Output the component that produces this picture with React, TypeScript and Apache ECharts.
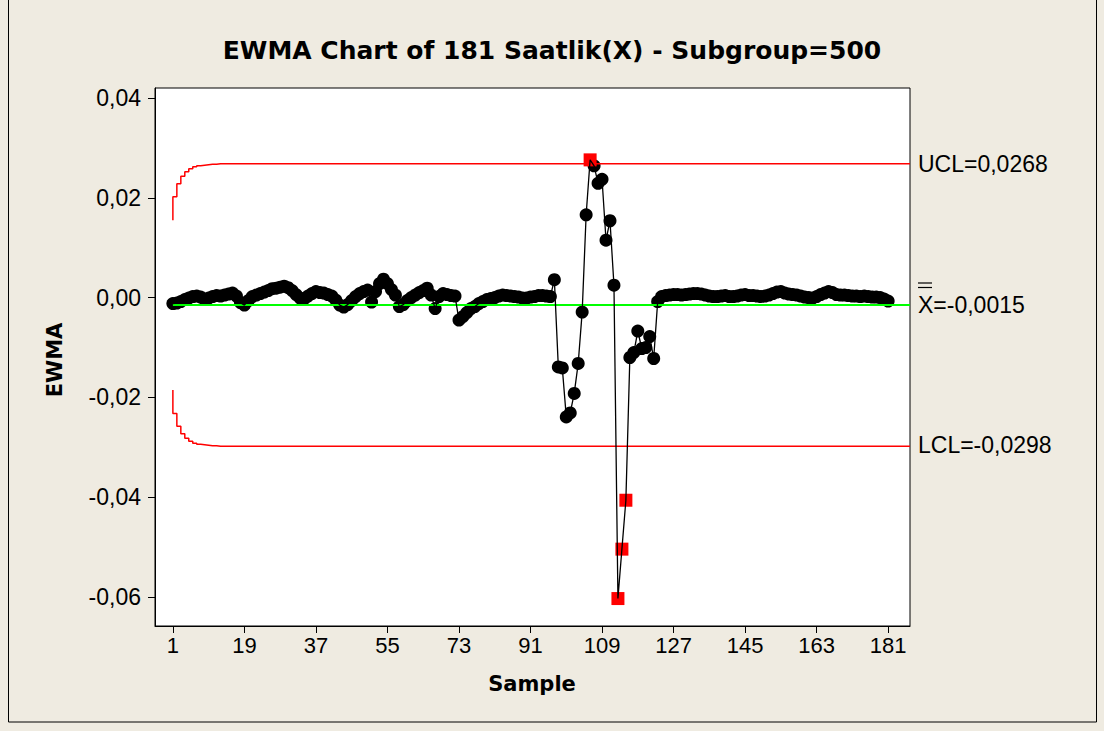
import React, { useEffect, useRef } from "react";
import * as echarts from "echarts";

const titleText = "EWMA Chart of 181 Saatlik(X) - Subgroup=500";
const xTicks = [1, 19, 37, 55, 73, 91, 109, 127, 145, 163, 181];
const yTicks = [-0.06, -0.04, -0.02, 0, 0.02, 0.04];

// EWMA values for samples 1..181
const ewma = [
  -0.0012, -0.0011, -0.0008, -0.0004, -0.0001, 0.0002, 0.0003, 0.0001, -0.0004, -0.0001,
  0.0002, 0.0004, 0.0003, 0.0005, 0.0007, 0.0009, 0.0003, -0.0010, -0.0015, -0.0006,
  0.0002, 0.0005, 0.0008, 0.0011, 0.0014, 0.0018, 0.0019, 0.0021, 0.0023, 0.0020,
  0.0014, 0.0006, -0.0001, -0.0003, 0.0003, 0.0008, 0.0012, 0.0010, 0.0009, 0.0006,
  0.0003, -0.0005, -0.0015, -0.0019, -0.0014, -0.0006, 0.0002, 0.0008, 0.0012, 0.0015,
  -0.0009, 0.0012, 0.0028, 0.0037, 0.0028, 0.0016, 0.0005, -0.0018, -0.0014, -0.0006,
  0.0000, 0.0005, 0.0010, 0.0014, 0.0019, 0.0005, -0.0022, 0.0002, 0.0008, 0.0006,
  0.0004, 0.0003, -0.0045, -0.0038, -0.0030, -0.0022, -0.0018, -0.0012, -0.0008, -0.0004,
  -0.0002, 0.0000, 0.0003, 0.0005, 0.0004, 0.0003, 0.0002, 0.0001, -0.0001, -0.0001,
  0.0001, 0.0002, 0.0004, 0.0004, 0.0003, 0.0002, 0.0036, -0.0139, -0.0141, -0.0239,
  -0.0231, -0.0192, -0.0132, -0.0029, 0.0166, 0.0276, 0.0264, 0.0229, 0.0237, 0.0115,
  0.0154, 0.0025, -0.0603, -0.0504, -0.0406, -0.0120, -0.0110, -0.0067, -0.0102, -0.0100,
  -0.0078, -0.0122, -0.0008, 0.0002, 0.0004, 0.0005, 0.0006, 0.0006, 0.0005, 0.0006,
  0.0007, 0.0008, 0.0008, 0.0007, 0.0005, 0.0003, 0.0002, 0.0002, 0.0003, 0.0004,
  0.0002, 0.0002, 0.0003, 0.0005, 0.0006, 0.0004, 0.0004, 0.0003, 0.0002, 0.0003,
  0.0005, 0.0008, 0.0011, 0.0012, 0.0009, 0.0007, 0.0006, 0.0005, 0.0003, 0.0001,
  0.0000, -0.0001, 0.0002, 0.0006, 0.0009, 0.0012, 0.0010, 0.0006, 0.0005, 0.0005,
  0.0004, 0.0003, 0.0003, 0.0002, 0.0003, 0.0002, 0.0001, 0.0001, 0.0000, -0.0003,
  -0.0007,
];

// Control limits: early steps (samples 1..13), then steady values
const uclSteps = [0.0155, 0.0202, 0.0228, 0.0243, 0.0252, 0.0258, 0.0262, 0.0264, 0.0265, 0.0266, 0.0267, 0.0267, 0.0268];
const lclSteps = [-0.0185, -0.0232, -0.0258, -0.0273, -0.0282, -0.0288, -0.0292, -0.0294, -0.0295, -0.0296, -0.0297, -0.0297, -0.0298];
const UCL = 0.0268;
const LCL = -0.0298;
const CENTER = -0.0015;

const X_MIN = -3.5;
const X_MAX = 186.5;
const Y_MIN = -0.0658;
const Y_MAX = 0.042;

const FONT = "Liberation Sans";

export default function App() {
  const ref = useRef<HTMLDivElement>(null);
  useEffect(() => {
    if (!ref.current) return;
    const chart = echarts.init(ref.current, null, { renderer: "svg" });
    const n = ewma.length;
    const pts = ewma.map((v, i) => [i + 1, v]);
    const inCtl = pts.filter(([, v]) => v <= UCL && v >= LCL);
    const outCtl = pts.filter(([, v]) => v > UCL || v < LCL);
    const uclData = uclSteps.map((v, i) => [i + 1, v]).concat([[n, UCL], [X_MAX, UCL]]);
    const lclData = lclSteps.map((v, i) => [i + 1, v]).concat([[n, LCL], [X_MAX, LCL]]);
    const fmt = (v: number) => {
      const s = v.toFixed(2).replace(".", ",");
      return s === "-0,00" ? "0,00" : s;
    };
    chart.setOption({
      animation: false,
      backgroundColor: "#EFEBE1",
      textStyle: { fontFamily: FONT },
      grid: {
        left: 155, top: 88, right: 194, bottom: 105,
        show: true, backgroundColor: "#ffffff", borderColor: "#000", borderWidth: 1,
      },
      xAxis: {
        type: "value", min: X_MIN, max: X_MAX,
        axisLine: { onZero: false, lineStyle: { color: "#000", width: 1 } },
        axisTick: { customValues: xTicks, length: 7, lineStyle: { color: "#000" } },
        axisLabel: { customValues: xTicks, fontSize: 22, color: "#000", margin: 8, fontFamily: FONT },
        splitLine: { show: false },
      },
      yAxis: {
        type: "value", min: Y_MIN, max: Y_MAX,
        axisLine: { show: true, onZero: false, lineStyle: { color: "#000", width: 1 } },
        axisTick: { show: true, customValues: yTicks, length: 7, lineStyle: { color: "#000" } },
        axisLabel: { customValues: yTicks, fontSize: 23, color: "#000", margin: 14, formatter: fmt, fontFamily: FONT },
        splitLine: { show: false },
      },
      series: [
        { type: "line", data: uclData, step: "start", showSymbol: false, lineStyle: { color: "#ff0000", width: 1.5 }, silent: true },
        { type: "line", data: lclData, step: "start", showSymbol: false, lineStyle: { color: "#ff0000", width: 1.5 }, silent: true },
        { type: "line", data: [[1, CENTER], [X_MAX, CENTER]], showSymbol: false, lineStyle: { color: "#00ff00", width: 2 }, silent: true },
        { type: "line", data: pts, showSymbol: false, lineStyle: { color: "#000", width: 1.3 }, silent: true },
        { type: "scatter", data: inCtl, symbol: "circle", symbolSize: 13, itemStyle: { color: "#000", opacity: 1 }, silent: true },
        { type: "scatter", data: outCtl, symbol: "rect", symbolSize: 13, itemStyle: { color: "#ff0000", opacity: 1 }, silent: true },
      ],
      graphic: [
        { type: "rect", shape: { x: 8.5, y: -2, width: 1088, height: 724 }, style: { fill: "none", stroke: "#000", lineWidth: 1 }, silent: true },
        { type: "text", x: 552, y: 50, style: { text: titleText, font: `bold 25px "DejaVu Sans"`, fill: "#000", textAlign: "center", textVerticalAlign: "middle" } },
        { type: "text", x: 532, y: 684, style: { text: "Sample", font: `bold 21px "DejaVu Sans"`, fill: "#000", textAlign: "center", textVerticalAlign: "middle" } },
        { type: "text", x: 55, y: 360, rotation: Math.PI / 2, style: { text: "EWMA", font: `bold 21px "DejaVu Sans"`, fill: "#000", textAlign: "center", textVerticalAlign: "middle" } },
        { type: "text", x: 918, y: 164, style: { text: "UCL=0,0268", font: `23px "${FONT}"`, fill: "#000", textVerticalAlign: "middle" } },
        { type: "text", x: 918, y: 305, style: { text: "X=-0,0015", font: `23px "${FONT}"`, fill: "#000", textVerticalAlign: "middle" } },
        { type: "line", shape: { x1: 918, y1: 283, x2: 932, y2: 283 }, style: { stroke: "#000", lineWidth: 1.2 } },
        { type: "line", shape: { x1: 918, y1: 287.5, x2: 932, y2: 287.5 }, style: { stroke: "#000", lineWidth: 1.2 } },
        { type: "text", x: 918, y: 445, style: { text: "LCL=-0,0298", font: `23px "${FONT}"`, fill: "#000", textVerticalAlign: "middle" } },
      ],
    });
    return () => chart.dispose();
  }, []);
  return <div ref={ref} style={{ position: "fixed", left: 0, top: 0, width: 1104, height: 731 }} />;
}
